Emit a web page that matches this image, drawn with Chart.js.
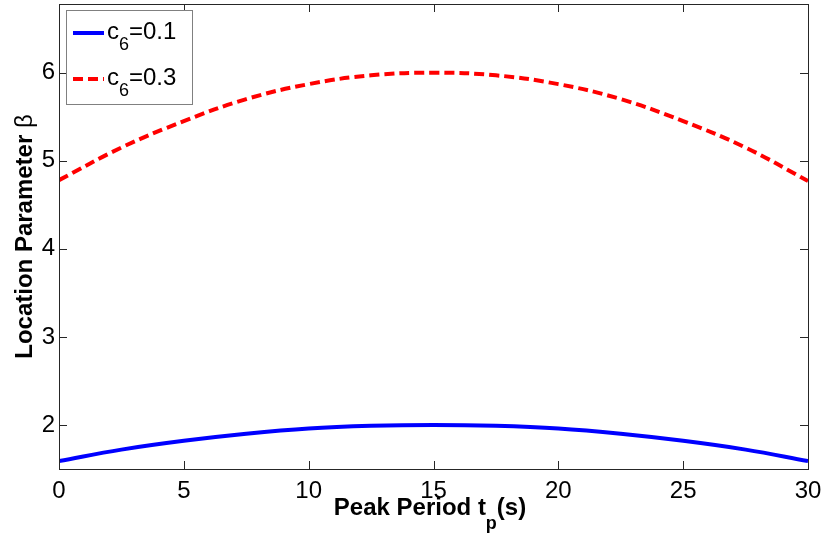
<!DOCTYPE html>
<html>
<head>
<meta charset="utf-8">
<script src="https://cdn.jsdelivr.net/npm/chart.js@4/dist/chart.umd.min.js"></script>
<style>
  html, body { margin: 0; padding: 0; background: #fff; }
  #wrap { width: 825px; height: 546px; }
</style>
</head>
<body>
<div id="wrap"><canvas id="myChart" width="825" height="546"></canvas></div>
<script>
// peak period (s)
var periods = [0, 2.5, 5, 7.5, 10, 12.5, 15, 17.5, 20, 22.5, 25, 27.5, 30];
// location parameter beta
var betaLow  = [1.59, 1.72, 1.82, 1.90, 1.96, 1.99, 2.00, 1.99, 1.96, 1.90, 1.82, 1.72, 1.59];
var betaHigh = [4.78, 5.15, 5.45, 5.70, 5.87, 5.97, 6.00, 5.97, 5.87, 5.70, 5.45, 5.15, 4.77];
var xTicks = [0, 5, 10, 15, 20, 25, 30];
var yTicks = [2, 3, 4, 5, 6];
var seriesNames = ['0.1', '0.3'];

function pts(ys) {
  return periods.map(function (x, i) { return { x: x, y: ys[i] }; });
}

var font = '"Liberation Sans", Arial, sans-serif';

// matlab style frame, inward ticks, legend and titles
var decor = {
  id: 'decor',
  afterDraw: function (chart) {
    var c = chart.ctx, a = chart.chartArea;
    var xs = chart.scales.x, ys = chart.scales.y;
    c.save();
    c.strokeStyle = '#262626';
    c.lineWidth = 1;
    c.strokeRect(a.left + 0.5, a.top + 0.5, a.right - a.left, a.bottom - a.top);
    c.beginPath();
    xTicks.forEach(function (t) {
      var px = Math.round(xs.getPixelForValue(t)) + 0.5;
      c.moveTo(px, a.bottom); c.lineTo(px, a.bottom - 8);
      c.moveTo(px, a.top); c.lineTo(px, a.top + 8);
    });
    yTicks.forEach(function (t) {
      var py = Math.round(ys.getPixelForValue(t)) + 0.5;
      c.moveTo(a.left, py); c.lineTo(a.left + 8, py);
      c.moveTo(a.right, py); c.lineTo(a.right - 8, py);
    });
    c.stroke();

    // legend
    var lx = 66, ly = 10, lw = 126, lh = 94;
    c.fillStyle = '#fff';
    c.fillRect(lx, ly, lw, lh);
    c.strokeStyle = '#808080';
    c.strokeRect(lx + 0.5, ly + 0.5, lw, lh);
    var cols = ['#0000ff', '#ff0000'];
    [33, 79].forEach(function (yy, i) {
      c.strokeStyle = cols[i];
      c.lineWidth = 4;
      c.setLineDash(i === 1 ? [10, 5] : []);
      c.beginPath(); c.moveTo(73, yy); c.lineTo(104, yy); c.stroke();
      c.setLineDash([]);
      c.fillStyle = '#000';
      c.textBaseline = 'alphabetic';
      c.textAlign = 'left';
      c.font = '24px ' + font;
      c.fillText('c', 107, yy + 6);
      var w = c.measureText('c').width;
      c.font = '18px ' + font;
      c.fillText('6', 107 + w, yy + 17);
      var w2 = c.measureText('6').width;
      c.font = '24px ' + font;
      c.fillText('=' + seriesNames[i], 107 + w + w2, yy + 6);
    });

    // x title with subscript
    c.fillStyle = '#000';
    c.font = 'bold 24px ' + font;
    var p1 = 'Peak Period t', p3 = '(s)';
    var w1 = c.measureText(p1).width, w3 = c.measureText(p3).width;
    c.font = 'bold 18px ' + font;
    var w2b = c.measureText('p').width;
    var total = w1 + w2b + w3;
    var sx = 430 - total / 2;
    var by = 515;
    c.font = 'bold 24px ' + font;
    c.fillText(p1, sx, by);
    c.font = 'bold 18px ' + font;
    c.fillText('p', sx + w1, by + 14);
    c.font = 'bold 24px ' + font;
    c.fillText(p3, sx + w1 + w2b, by);

    // y title (beta in plain weight)
    c.translate(32, (a.top + a.bottom) / 2);
    c.rotate(-Math.PI / 2);
    c.textAlign = 'left';
    c.font = 'bold 24px ' + font;
    var t1 = 'Location Parameter ';
    var tw1 = c.measureText(t1).width;
    c.font = '24px ' + font;
    var tw2 = c.measureText('\u03b2').width;
    var start = -(tw1 + tw2) / 2;
    c.font = 'bold 24px ' + font;
    c.fillText(t1, start, 0);
    c.font = '24px ' + font;
    c.fillText('\u03b2', start + tw1, 0);
    c.restore();
  }
};

var ctx = document.getElementById('myChart');
new Chart(ctx, {
  type: 'line',
  data: {
    datasets: [{
      label: 'c6=0.1',
      data: pts(betaLow),
      borderColor: '#0000ff',
      borderWidth: 4,
      pointRadius: 0,
      tension: 0.4,
      fill: false
    }, {
      label: 'c6=0.3',
      data: pts(betaHigh),
      borderColor: '#ff0000',
      borderWidth: 4,
      borderDash: [10, 5],
      pointRadius: 0,
      tension: 0.4,
      fill: false
    }]
  },
  options: {
    responsive: false,
    animation: false,
    layout: { padding: { top: 4, right: 17, left: 0, bottom: 0 } },
    plugins: { legend: { display: false }, tooltip: { enabled: false } },
    scales: {
      x: {
        type: 'linear',
        min: 0, max: 30,
        grid: { display: false, drawTicks: false },
        border: { display: false },
        afterBuildTicks: function (s) { s.ticks = xTicks.map(function (v) { return { value: v }; }); },
        afterFit: function (s) { s.height = 77; s.paddingLeft = 0; s.paddingRight = 0; },
        ticks: { color: '#000', font: { family: font, size: 24 }, padding: 8, maxRotation: 0 }
      },
      y: {
        min: 1.5, max: 6.78,
        grid: { display: false, drawTicks: false },
        border: { display: false },
        afterBuildTicks: function (s) { s.ticks = yTicks.map(function (v) { return { value: v }; }); },
        afterFit: function (s) { s.width = 59; s.paddingTop = 0; s.paddingBottom = 0; },
        ticks: { color: '#000', font: { family: font, size: 24 }, padding: 4 }
      }
    }
  },
  plugins: [decor]
});
</script>
</body>
</html>
